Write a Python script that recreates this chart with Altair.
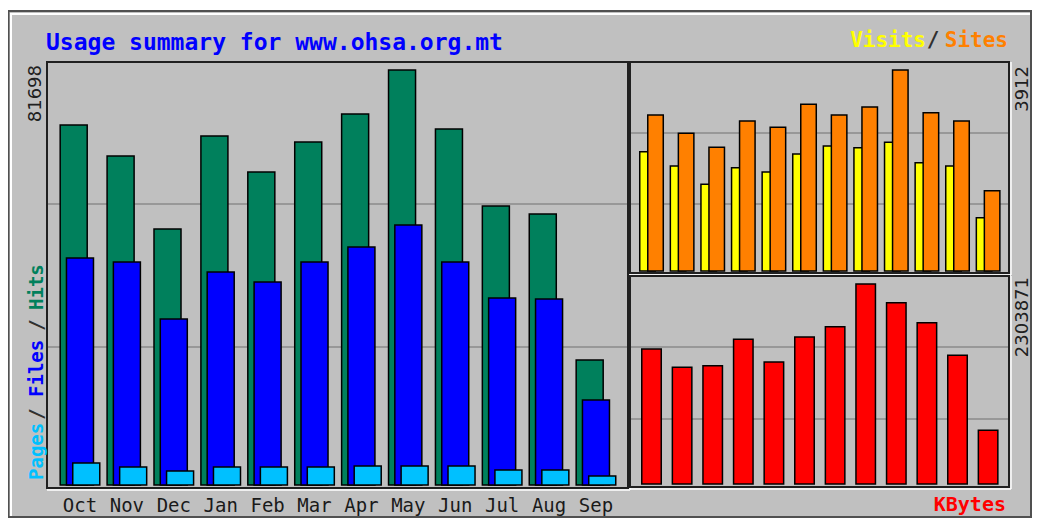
import altair as alt
import pandas as pd

# ---------------- data ----------------
months = ["Oct", "Nov", "Dec", "Jan", "Feb", "Mar", "Apr", "May", "Jun", "Jul", "Aug", "Sep"]
hits = [70870, 64767, 50397, 68705, 61618, 67523, 73036, 81698, 70083, 54925, 53349, 24608]
files = [44688, 43900, 32679, 41932, 39963, 43900, 46853, 51184, 43900, 36813, 36616, 16733]
pages = [4331, 3543, 2756, 3543, 3543, 3543, 3740, 3740, 3740, 2953, 2953, 1772]
visits = [2322, 2044, 1687, 2011, 1927, 2277, 2433, 2400, 2505, 2108, 2044, 1037]
sites = [3036, 2680, 2408, 2919, 2797, 3244, 3036, 3192, 3912, 3081, 2919, 1563]
kbytes = [1555124, 1344210, 1363018, 1666342, 1405187, 1693075, 1812236, 2303871, 2088410, 1858093, 1482307, 618452]

df = pd.DataFrame({
    "idx": list(range(len(months))),
    "month": months,
    "hits": hits, "files": files, "pages": pages,
    "visits": visits, "sites": sites, "kbytes": kbytes,
})

# ---------------- layout ----------------
W, H = 1024, 510
GRAY = "#C0C0C0"
XDOM = [-0.703, 11.683]
LEFT_X = [39, 620]
RIGHT_X = [622, 1001]

xs_left = alt.Scale(domain=XDOM, range=LEFT_X, nice=False, zero=False)
xs_right = alt.Scale(domain=XDOM, range=RIGHT_X, nice=False, zero=False)
ys_left = alt.Scale(domain=[0, max(hits) * 423 / 415], range=[477, 54], nice=False)
ys_vs = alt.Scale(domain=[0, max(sites) * 209 / 201], range=[263, 54], nice=False)
ys_kb = alt.Scale(domain=[0, max(kbytes) * 208 / 200], range=[476, 268], nice=False)

dummy = pd.DataFrame({"d": [0]})


def bars(field, color, off, w, xs, ys):
    return alt.Chart(df).transform_calculate(
        x0=f"datum.idx + ({off}) - {w / 2}",
        x1=f"datum.idx + ({off}) + {w / 2}",
        base="0",
    ).mark_rect(fill=color, stroke="#000000", strokeWidth=1.5).encode(
        x=alt.X("x0:Q", scale=xs, axis=None),
        x2="x1:Q",
        y=alt.Y(f"{field}:Q", scale=ys, axis=None),
        y2="base:Q",
    )


def hline(y, x1, x2, color, w=1.0):
    return alt.Chart(dummy).mark_rule(color=color, strokeWidth=w).encode(
        x=alt.value(x1), x2=alt.value(x2), y=alt.value(y))


def vline(x, y1, y2, color, w=1.0):
    return alt.Chart(dummy).mark_rule(color=color, strokeWidth=w).encode(
        x=alt.value(x), y=alt.value(y1), y2=alt.value(y2))


def frame(x1, x2, y1, y2):
    return [
        alt.Chart(dummy).mark_rect(fillOpacity=0, stroke="#202020", strokeWidth=2).encode(
            x=alt.value(x1), x2=alt.value(x2), y=alt.value(y1), y2=alt.value(y2)),
        hline(y2 + 2, x1, x2 + 2, "#FFFFFF", 1.5),
        vline(x2 + 2, y1, y2 + 2, "#FFFFFF", 1.5),
    ]


def label(txt, x, y, color, size, font="DejaVu Sans Mono", weight="bold",
          align="left", baseline="alphabetic", angle=0):
    return alt.Chart(dummy).mark_text(
        text=txt, font=font, fontSize=size, fontWeight=weight, color=color,
        align=align, baseline=baseline, angle=angle,
    ).encode(x=alt.value(x), y=alt.value(y))


# ---------------- decorations: outer bevel ----------------
outer = [
    alt.Chart(dummy).mark_rect(fill="#FFFFFF").encode(
        x=alt.value(0), x2=alt.value(W), y=alt.value(0), y2=alt.value(2)),
    hline(3, 0, W, "#505050", 2),
    hline(6, 2, W - 2, "#FFFFFF", 2),
    vline(0.5, 3, H, "#505050", 2),
    vline(3, 6, H - 2, "#FFFFFF", 2),
    vline(W - 1, 3, H, "#505050", 2),
    hline(H - 1, 0, W, "#505050", 2),
]

# ---------------- gridlines ----------------
GRID = "#707070"
grids = [
    hline(196, LEFT_X[0], LEFT_X[1], GRID, 1.2),
    hline(339, LEFT_X[0], LEFT_X[1], GRID, 1.2),
    hline(125, RIGHT_X[0], RIGHT_X[1], GRID, 1.2),
    hline(196, RIGHT_X[0], RIGHT_X[1], GRID, 1.2),
    hline(339, RIGHT_X[0], RIGHT_X[1], GRID, 1.2),
    hline(411, RIGHT_X[0], RIGHT_X[1], GRID, 1.2),
]

# ---------------- bars ----------------
left_panel = alt.layer(
    bars("hits", "#00805C", -0.134, 0.576, xs_left, ys_left),
    bars("files", "#0000FF", 0.0, 0.576, xs_left, ys_left),
    bars("pages", "#00C0FF", 0.134, 0.576, xs_left, ys_left),
    alt.Chart(df).mark_text(
        font="DejaVu Sans Mono", fontSize=19, color="#1A1A1A", baseline="alphabetic"
    ).encode(
        x=alt.X("idx:Q", scale=xs_left, axis=None),
        y=alt.value(504),
        text="month:N",
    ),
)

vs_panel = alt.layer(
    bars("visits", "#FFFF00", -0.131, 0.507, xs_right, ys_vs),
    bars("sites", "#FF8000", 0.131, 0.507, xs_right, ys_vs),
)

kb_panel = alt.layer(
    bars("kbytes", "#FF0000", 0.0, 0.637, xs_right, ys_kb),
)

# ---------------- texts ----------------
texts = [
    label("Usage summary for www.ohsa.org.mt", 38, 42, "#0000FF", 23),
    label("Sites", 1000, 39, "#FF8000", 21, align="right"),
    label("/", 925, 39, "#303030", 21, align="center"),
    label("Visits", 918, 39, "#FFFF00", 21, align="right"),
    label("KBytes", 998, 503, "#FF0000", 20, align="right"),
    label("Pages", 29, 472, "#00C0FF", 19, align="left", baseline="middle", angle=270),
    label("/", 29, 406, "#303030", 19, align="center", baseline="middle", angle=270),
    label("Files", 29, 389, "#0000FF", 19, align="left", baseline="middle", angle=270),
    label("/", 29, 317, "#303030", 19, align="center", baseline="middle", angle=270),
    label("Hits", 29, 302, "#00805C", 19, align="left", baseline="middle", angle=270),
    label(str(max(hits)), 28, 57, "#202020", 18, font="DejaVu Sans", weight="normal",
          align="right", baseline="middle", angle=270),
    label(str(max(sites)), 1015, 58, "#202020", 18, font="DejaVu Sans", weight="normal",
          align="right", baseline="middle", angle=270),
    label(str(max(kbytes)), 1015, 269, "#202020", 18, font="DejaVu Sans", weight="normal",
          align="right", baseline="middle", angle=270),
]

frames = frame(LEFT_X[0], LEFT_X[1], 54, 480) + frame(RIGHT_X[0], RIGHT_X[1], 54, 265) \
    + frame(RIGHT_X[0], RIGHT_X[1], 268, 479)

chart = alt.layer(
    *outer, *grids, left_panel, vs_panel, kb_panel, *frames, *texts
).resolve_scale(
    x="independent", y="independent"
).properties(
    width=W, height=H, padding=0,
    autosize=alt.AutoSizeParams(type="none"),
    background=GRAY,
).configure_view(strokeWidth=0)

chart.save("out.html", embed_options={"renderer": "svg", "actions": False})
